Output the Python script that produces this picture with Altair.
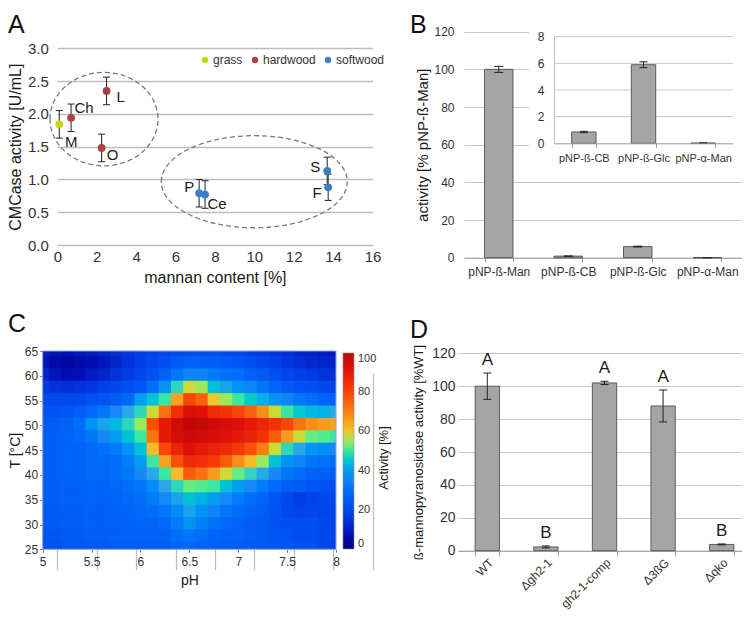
import altair as alt
import pandas as pd

# ---------------- data ----------------
# Panel A
a_sample = ["M", "Ch", "L", "O", "P", "Ce", "S", "F"]
a_wood = ["grass", "hardwood", "hardwood", "hardwood",
          "softwood", "softwood", "softwood", "softwood"]
a_mannan = [0.1, 0.7, 2.5, 2.25, 7.2, 7.5, 13.7, 13.75]
a_activity = [1.84, 1.94, 2.35, 1.48, 0.79, 0.77, 1.13, 0.88]
a_err = [0.21, 0.21, 0.21, 0.21, 0.21, 0.21, 0.21, 0.20]
a_woods = ["grass", "hardwood", "softwood"]
a_cluster_x = [2.37, 10.0]
a_cluster_y = [1.92, 0.965]
a_x_ticks = [0, 2, 4, 6, 8, 10, 12, 14, 16]
a_y_ticks = [0, 0.5, 1.0, 1.5, 2.0, 2.5, 3.0]

# Panel B
b_substrate = ["pNP-ß-Man", "pNP-ß-CB", "pNP-ß-Glc", "pNP-α-Man"]
b_activity = [100.0, 0.85, 5.9, 0.02]
b_err = [1.6, 0.05, 0.22, 0.01]
b_main_ticks = [0, 20, 40, 60, 80, 100, 120]
b_inset_ticks = [0, 2, 4, 6, 8]

c_ph = [5.0, 5.125, 5.25, 5.375, 5.5, 5.625, 5.75, 5.875, 6.0, 6.125, 6.25,
        6.375, 6.5, 6.625, 6.75, 6.875, 7.0, 7.125, 7.25, 7.375, 7.5, 7.625,
        7.75, 7.875, 8.0]
c_temp = [65, 62.5, 60, 57.5, 55, 52.5, 50, 47.5, 45, 42.5, 40, 37.5, 35,
          32.5, 30, 27.5, 25]
c_activity = [
    [10, 9, 8, 9, 10, 12, 14, 16, 18, 19, 20, 21, 22, 22, 22, 21, 20, 18, 17, 15, 14, 12, 11, 10, 9],
    [9, 6, 5, 6, 7, 9, 12, 15, 18, 20, 22, 25, 27, 27, 26, 25, 24, 22, 20, 18, 16, 14, 13, 12, 11],
    [12, 9, 7, 8, 10, 12, 15, 17, 20, 23, 27, 32, 35, 35, 33, 31, 30, 27, 25, 22, 20, 18, 17, 15, 14],
    [17, 15, 14, 15, 16, 18, 20, 22, 24, 30, 38, 48, 58, 55, 45, 41, 38, 35, 32, 28, 25, 23, 22, 20, 18],
    [21, 20, 20, 21, 23, 24, 26, 29, 40, 45, 50, 65, 80, 75, 60, 55, 50, 46, 43, 38, 35, 32, 30, 28, 27],
    [23, 23, 24, 26, 29, 32, 36, 42, 48, 58, 72, 85, 93, 92, 86, 84, 80, 75, 68, 58, 50, 46, 44, 43, 42],
    [25, 26, 27, 30, 38, 41, 44, 48, 55, 78, 90, 96, 100, 99, 96, 94, 92, 90, 87, 84, 80, 72, 68, 66, 65],
    [26, 27, 28, 29, 32, 36, 40, 45, 50, 72, 90, 95, 97, 96, 94, 92, 90, 88, 84, 76, 66, 58, 52, 51, 50],
    [26, 27, 28, 28, 29, 31, 33, 38, 45, 62, 80, 88, 92, 90, 88, 86, 83, 78, 70, 58, 48, 42, 38, 37, 36],
    [26, 27, 28, 28, 29, 29, 30, 34, 40, 50, 65, 78, 86, 85, 82, 76, 68, 62, 55, 45, 38, 35, 32, 31, 30],
    [26, 27, 28, 28, 29, 29, 30, 32, 36, 42, 50, 62, 76, 72, 66, 58, 52, 47, 42, 36, 32, 30, 28, 27, 26],
    [26, 26, 27, 27, 28, 28, 29, 30, 32, 37, 42, 48, 52, 51, 50, 45, 40, 36, 33, 29, 26, 25, 24, 23, 22],
    [26, 26, 27, 27, 28, 28, 28, 29, 30, 33, 36, 41, 45, 43, 40, 36, 33, 30, 28, 24, 20, 17, 19, 20, 20],
    [25, 25, 26, 26, 27, 27, 28, 28, 29, 30, 32, 37, 41, 38, 35, 32, 30, 28, 26, 23, 20, 19, 20, 19, 19],
    [25, 25, 26, 26, 27, 27, 27, 28, 28, 28, 29, 33, 38, 34, 31, 29, 28, 26, 25, 23, 22, 22, 22, 20, 19],
    [24, 24, 25, 25, 26, 26, 27, 27, 27, 27, 27, 30, 32, 30, 28, 27, 27, 26, 25, 24, 23, 22, 22, 20, 19],
    [23, 23, 24, 24, 25, 25, 26, 26, 26, 26, 26, 28, 29, 28, 27, 26, 26, 25, 25, 24, 24, 23, 23, 20, 18],
]
c_ph_ticks = [5, 5.5, 6, 6.5, 7, 7.5, 8]
c_temp_ticks = [25, 30, 35, 40, 45, 50, 55, 60, 65]
c_legend_ticks = [0, 20, 40, 60, 80, 100]
c_color_stops = [0, 8, 18, 28, 36, 42, 47, 51, 56, 61, 66, 73, 82, 92, 100]

# Panel D
d_strain = ["WT", "Δgh2-1", "gh2-1-comp", "Δ3ßG", "Δqko"]
d_activity = [100.0, 2.3, 102.0, 88.0, 3.8]
d_err = [8.0, 0.6, 1.0, 9.7, 0.3]
d_group = ["A", "B", "A", "A", "B"]
d_ticks = [0, 20, 40, 60, 80, 100, 120]

# ---------------- style / layout ----------------
W, H = 734, 602
FONT = "Liberation Sans"
LAB = "#333333"
TIT = "#1a1a1a"
BAR_FILL = "#a5a5a5"
BAR_STROKE = "#404040"
GRID = "#c8c8c8"
AXLINE = "#999999"
ERR = "#222222"
WOOD_COLORS = ["#c4d416", "#a8413f", "#3a7fc6"]
JET = ["#000080", "#0010b8", "#0040e8", "#0064f8", "#1888f8", "#28a8e8",
       "#38d0c0", "#50ec90", "#a8e850", "#f8c030", "#f89a20", "#f86a10",
       "#f83808", "#e01008", "#c00808"]

A_X, A_Y = [49.3, 364.5], [237.0, 40.3]
B_X, B_Y = [456.0, 734.0], [249.7, 23.7]
BI_X, BI_Y = [546.0, 725.0], [135.3, 28.7]
C_X, C_Y = [34.7, 328.0], [541.3, 343.0]
D_X, D_Y = [450.0, 743.0], [542.7, 345.3]


def lin(domain, rng):
    return alt.Scale(domain=domain, range=rng, nice=False, zero=False)


units = []

# ================= Panel A =================
dfA = pd.DataFrame({"sample": a_sample, "wood": a_wood, "mannan": a_mannan,
                    "act": a_activity, "err": a_err})
xA = lin([0, 16], A_X)
yA = lin([0, 3], A_Y)

axA_x = alt.Axis(orient="bottom", offset=A_Y[0] - H, values=a_x_ticks,
                 grid=True, gridColor="#bdbdbd", gridWidth=1.3, domain=False,
                 ticks=False, labelFontSize=15, labelPadding=4, labelFlush=False,
                 labelColor=LAB, labelOverlap=False, title="mannan content [%]",
                 titleFontSize=16, titleFontWeight="normal", titleColor=TIT,
                 titlePadding=5)
axA_y = alt.Axis(orient="left", offset=-A_X[0], values=a_y_ticks, format=".1f",
                 grid=True, gridColor="#bdbdbd", gridWidth=1.3, domain=False,
                 ticks=False, labelFontSize=15, labelPadding=9, labelColor=LAB,
                 labelOverlap=False, minExtent=0, title="CMCase activity [U/mL]",
                 titleFontSize=16, titleFontWeight="normal", titleColor=TIT,
                 titlePadding=4)


def ellipse_path(k):
    c = 0.5523
    return (f"M-1,0C-1,{-c*k:.4f},{-c},{-k:.4f},0,{-k:.4f}"
            f"C{c},{-k:.4f},1,{-c*k:.4f},1,0"
            f"C1,{c*k:.4f},{c},{k:.4f},0,{k:.4f}"
            f"C{-c},{k:.4f},-1,{c*k:.4f},-1,0Z")


ell_style = [(0.865, 108), (0.495, 186)]
for i, (k, span) in enumerate(ell_style):
    dfE = pd.DataFrame({"cx": [a_cluster_x[i]], "cy": [a_cluster_y[i]]})
    units.append(
        alt.Chart(dfE).mark_point(shape=ellipse_path(k), size=span * span,
                                  filled=False, stroke="#7a7a7a", strokeWidth=1.3,
                                  strokeDash=[5, 3], opacity=1)
        .encode(x=alt.X("cx:Q", scale=xA, axis=axA_x if i == 0 else None),
                y=alt.Y("cy:Q", scale=yA, axis=axA_y if i == 0 else None)))

baseA = alt.Chart(dfA).transform_calculate(lo="datum.act - datum.err",
                                           hi="datum.act + datum.err")
units.append(baseA.mark_rule(color=ERR, strokeWidth=1).encode(
    x=alt.X("mannan:Q", scale=xA, axis=None),
    y=alt.Y("lo:Q", scale=yA, axis=None), y2="hi:Q"))
for f in ["lo", "hi"]:
    units.append(baseA.mark_tick(orient="horizontal", size=7, thickness=1,
                                 color=ERR, opacity=1).encode(
        x=alt.X("mannan:Q", scale=xA, axis=None),
        y=alt.Y(f"{f}:Q", scale=yA, axis=None)))
units.append(baseA.mark_circle(size=60, opacity=1).encode(
    x=alt.X("mannan:Q", scale=xA, axis=None),
    y=alt.Y("act:Q", scale=yA, axis=None),
    color=alt.Color("wood:N", scale=alt.Scale(domain=a_woods, range=WOOD_COLORS),
                    legend=alt.Legend(orient="none", legendX=191, legendY=46,
                                      direction="horizontal", title=None,
                                      labelFontSize=12, labelColor=LAB,
                                      symbolType="circle", symbolSize=40,
                                      symbolStrokeWidth=0, labelOffset=2,
                                      columnPadding=6))))
label_offsets = {"M": (12, 18), "Ch": (13, -10), "L": (14, 6), "O": (11, 7),
                 "P": (-10, -6), "Ce": (12, 9), "S": (-12, -4), "F": (-11, 6)}
for s in a_sample:
    dx, dy = label_offsets[s]
    units.append(baseA.transform_filter(alt.datum.sample == s)
                 .mark_text(dx=dx, dy=dy, fontSize=15, color=TIT)
                 .encode(x=alt.X("mannan:Q", scale=xA, axis=None),
                         y=alt.Y("act:Q", scale=yA, axis=None),
                         text="sample:N"))

# ================= Panel B (main) =================
dfB = pd.DataFrame({"sub": b_substrate, "act": b_activity, "err": b_err})
xB = alt.Scale(domain=b_substrate, range=B_X, paddingInner=0.59, paddingOuter=0.295)
yB = lin([0, 120], B_Y)
axB_x = alt.Axis(orient="bottom", offset=B_Y[0] - H, tickBand="extent",
                 ticks=True, tickSize=4, tickColor=AXLINE, domainColor=AXLINE,
                 labelAngle=0, labelFontSize=12, labelColor=LAB, labelPadding=5,
                 labelOverlap=False, title=None)
axB_y = alt.Axis(orient="left", offset=-B_X[0], values=b_main_ticks, grid=True,
                 gridColor=GRID, domain=False, ticks=False, labelFontSize=12,
                 labelColor=LAB, labelPadding=10, minExtent=0,
                 title="activity [% pNP-ß-Man]", titleFontSize=15,
                 titleFontWeight="normal", titleColor=TIT, titlePadding=3)
baseB = alt.Chart(dfB).transform_calculate(lo="datum.act - datum.err",
                                           hi="datum.act + datum.err")
units.append(alt.Chart(dfB).mark_bar(fill=BAR_FILL, stroke=BAR_STROKE,
                                     strokeWidth=0.8)
             .encode(x=alt.X("sub:N", scale=xB, axis=axB_x, sort=b_substrate),
                     y=alt.Y("act:Q", scale=yB, axis=axB_y)))
units.append(baseB.mark_rule(color=ERR).encode(
    x=alt.X("sub:N", scale=xB, axis=None, sort=b_substrate),
    y=alt.Y("lo:Q", scale=yB, axis=None), y2="hi:Q"))
for f in ["lo", "hi"]:
    units.append(baseB.mark_tick(orient="horizontal", size=9, thickness=1,
                                 color=ERR, opacity=1).encode(
        x=alt.X("sub:N", scale=xB, axis=None, sort=b_substrate),
        y=alt.Y(f"{f}:Q", scale=yB, axis=None)))

# ================= Panel B (inset) =================
dfBi = dfB.iloc[1:].reset_index(drop=True)
xBi = alt.Scale(domain=b_substrate[1:], range=BI_X, paddingInner=0.59,
                paddingOuter=0.295)
yBi = lin([0, 8], BI_Y)
axBi_x = alt.Axis(orient="bottom", offset=BI_Y[0] - H, tickBand="extent",
                  ticks=True, tickSize=4, tickColor=AXLINE, domainColor=AXLINE,
                  labelAngle=0, labelFontSize=11, labelColor=LAB, labelPadding=5,
                  labelOverlap=False, title=None, zindex=1)
axBi_y = alt.Axis(orient="left", offset=-BI_X[0], values=b_inset_ticks,
                  grid=False, domain=True, domainColor="#c0c0c0", ticks=False,
                  labelFontSize=12, labelColor=LAB, labelPadding=10,
                  title=None, zindex=1)
dfBg = pd.DataFrame({"v": b_inset_ticks[1:]})
baseBi = alt.Chart(dfBi).transform_calculate(lo="datum.act - datum.err",
                                             hi="datum.act + datum.err")
units.append(alt.Chart(pd.DataFrame({"n": [1]})).mark_rect(fill="white").encode(
    x=alt.value(521), x2=alt.value(734), y=alt.value(16), y2=alt.value(164)))
units.append(alt.Chart(dfBg).mark_rule(color=GRID, strokeWidth=1).encode(
    y=alt.Y("v:Q", scale=yBi, axis=None),
    x=alt.value(BI_X[0]), x2=alt.value(BI_X[1])))
units.append(alt.Chart(dfBi).mark_bar(fill=BAR_FILL, stroke=BAR_STROKE,
                                      strokeWidth=0.8)
             .encode(x=alt.X("sub:N", scale=xBi, axis=axBi_x, sort=b_substrate[1:]),
                     y=alt.Y("act:Q", scale=yBi, axis=axBi_y)))
units.append(baseBi.mark_rule(color=ERR).encode(
    x=alt.X("sub:N", scale=xBi, axis=None, sort=b_substrate[1:]),
    y=alt.Y("lo:Q", scale=yBi, axis=None), y2="hi:Q"))
for f in ["lo", "hi"]:
    units.append(baseBi.mark_tick(orient="horizontal", size=8, thickness=1,
                                  color=ERR, opacity=1).encode(
        x=alt.X("sub:N", scale=xBi, axis=None, sort=b_substrate[1:]),
        y=alt.Y(f"{f}:Q", scale=yBi, axis=None)))

# ================= Panel C =================
rows = []
for i, t in enumerate(c_temp):
    for j, p in enumerate(c_ph):
        rows.append({"ph": p, "temp": t, "act": c_activity[i][j]})
dfC = pd.DataFrame(rows)
ph_half = (c_ph[1] - c_ph[0]) / 2
t_half = abs(c_temp[0] - c_temp[1]) / 2
ph_min, ph_max = min(c_ph), max(c_ph)
t_min, t_max = min(c_temp), max(c_temp)
bleed_ph, bleed_t = 0.01, 0.25   # small overlap so no seams show between cells
xC = lin([ph_min, ph_max], C_X)
yC = lin([t_min, t_max], C_Y)
colC = alt.Scale(domain=c_color_stops, range=JET)
axC_x = alt.Axis(orient="bottom", offset=C_Y[0] - H, values=c_ph_ticks,
                 format="~g", grid=False, domain=False, ticks=True, tickSize=3,
                 tickColor="#777777", labelFontSize=12, labelColor=LAB,
                 labelPadding=4, labelFlush=False, labelOverlap=False,
                 title="pH", titleFontSize=14, titleFontWeight="normal",
                 titleColor=TIT, titlePadding=6)
axC_y = alt.Axis(orient="left", offset=-C_X[0], values=c_temp_ticks,
                 grid=False, domain=False, ticks=True, tickSize=3,
                 tickColor="#777777", labelFontSize=12, labelColor=LAB,
                 labelPadding=2, labelOverlap=False, minExtent=0,
                 title="T [°C]", titleFontSize=14, titleFontWeight="normal",
                 titleColor=TIT, titlePadding=2)
units.append(alt.Chart(dfC).transform_calculate(
    x0=f"max({ph_min}, datum.ph - {ph_half})",
    x1=f"min({ph_max}, datum.ph + {ph_half + bleed_ph})",
    y0=f"max({t_min}, datum.temp - {t_half})",
    y1=f"min({t_max}, datum.temp + {t_half + bleed_t})",
).mark_rect().encode(
    x=alt.X("x0:Q", scale=xC, axis=axC_x), x2="x1:Q",
    y=alt.Y("y0:Q", scale=yC, axis=axC_y), y2="y1:Q",
    color=alt.Color("act:Q", scale=colC,
                    legend=alt.Legend(type="gradient", orient="none",
                                      legendX=335, legendY=345,
                                      direction="vertical", gradientLength=196,
                                      gradientThickness=11,
                                      gradientStrokeColor="#8a8a8a",
                                      gradientStrokeWidth=0.6,
                                      values=c_legend_ticks, labelFontSize=11,
                                      labelColor=LAB, labelOffset=4,
                                      labelOverlap=False, title=None)),
))
units.append(alt.Chart(pd.DataFrame({"x0": [ph_min], "x1": [ph_max],
                                     "y0": [t_min], "y1": [t_max]})).mark_rect(
    fillOpacity=0, stroke="#8ea2d4", strokeWidth=1).encode(
    x=alt.X("x0:Q", scale=xC, axis=None), x2="x1:Q",
    y=alt.Y("y0:Q", scale=yC, axis=None), y2="y1:Q"))

# ================= Panel D =================
dfD = pd.DataFrame({"strain": d_strain, "act": d_activity, "err": d_err,
                    "grp": d_group})
xD = alt.Scale(domain=d_strain, range=D_X, paddingInner=0.585, paddingOuter=0.2925)
yD = lin([0, 120], D_Y)
axD_x = alt.Axis(orient="bottom", offset=D_Y[0] - H, tickBand="extent",
                 ticks=True, tickSize=5, tickColor=AXLINE, domainColor=AXLINE,
                 labelAngle=315, labelAlign="right", labelBaseline="top",
                 labelFontSize=12, labelColor=LAB, labelPadding=1,
                 labelOverlap=False, title=None)
axD_y = alt.Axis(orient="left", offset=-D_X[0], values=d_ticks, grid=True,
                 gridColor=GRID, domain=False, ticks=False, labelFontSize=14,
                 labelColor=LAB, labelPadding=3, minExtent=0,
                 title="ß-mannopyranosidase activity [%WT]", titleFontSize=13,
                 titleFontWeight="normal", titleColor=TIT, titlePadding=6)
baseD = alt.Chart(dfD).transform_calculate(lo="datum.act - datum.err",
                                           hi="datum.act + datum.err")
units.append(alt.Chart(dfD).mark_bar(fill=BAR_FILL, stroke=BAR_STROKE,
                                     strokeWidth=0.8)
             .encode(x=alt.X("strain:N", scale=xD, axis=axD_x, sort=d_strain),
                     y=alt.Y("act:Q", scale=yD, axis=axD_y)))
units.append(baseD.mark_rule(color=ERR).encode(
    x=alt.X("strain:N", scale=xD, axis=None, sort=d_strain),
    y=alt.Y("lo:Q", scale=yD, axis=None), y2="hi:Q"))
for f in ["lo", "hi"]:
    units.append(baseD.mark_tick(orient="horizontal", size=8, thickness=1,
                                 color=ERR, opacity=1).encode(
        x=alt.X("strain:N", scale=xD, axis=None, sort=d_strain),
        y=alt.Y(f"{f}:Q", scale=yD, axis=None)))
units.append(baseD.mark_text(baseline="bottom", dy=-4, fontSize=17, color=TIT)
             .encode(x=alt.X("strain:N", scale=xD, axis=None, sort=d_strain),
                     y=alt.Y("hi:Q", scale=yD, axis=None), text="grp:N"))

# ================= panel letters & free titles =================
letter_pos = {"A": (0, 25), "B": (402, 25), "C": (0, 324), "D": (402, 330)}
for L, (lx, ly) in letter_pos.items():
    units.append(alt.Chart(pd.DataFrame({"t": [L]})).mark_text(
        align="left", baseline="alphabetic", fontSize=25, color="#111111")
        .encode(x=alt.value(lx), y=alt.value(ly), text="t:N"))
units.append(alt.Chart(pd.DataFrame({"t": ["Activity [%]"]})).mark_text(
    angle=270, align="center", baseline="middle", fontSize=13, color=TIT)
    .encode(x=alt.value(376), y=alt.value(450), text="t:N"))

chart = alt.layer(*units).resolve_scale(
    x="independent", y="independent", color="independent"
).properties(
    width=W, height=H, autosize=alt.AutoSizeParams(type="none"), padding=0
).configure(font=FONT, background="white").configure_view(stroke="transparent")

chart.save("out.html", embed_options={"renderer": "svg", "actions": False})
